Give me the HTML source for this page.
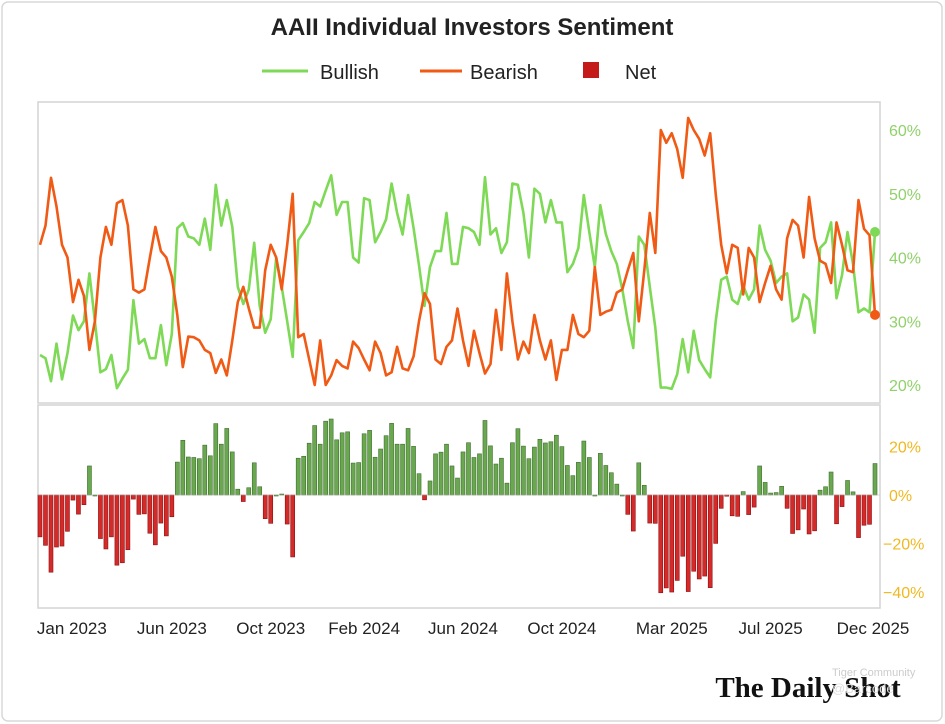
<!DOCTYPE html>
<html><head><meta charset="utf-8"><style>
body{margin:0;background:#fff;}
#wrap{position:relative;width:945px;height:724px;overflow:hidden;font-family:"Liberation Sans",sans-serif;}
</style></head><body>
<div id="wrap">
<svg id="chart" width="945" height="724"></svg>
</div>
<script>
const bullish=[24.7,24.2,20.6,26.5,20.9,25,30.9,28.6,30,37.5,30,22,22.5,24.7,19.5,21,22.4,33.3,26.5,27.2,24.2,24.2,29.4,23.1,28,44.6,45.4,43.3,43,42,46.1,41.2,51.4,45,49,44.8,35.4,32.7,35,42.3,32.4,28.2,30.3,40,35.4,30,24.4,42.7,44,45.4,48.7,48,50.5,52.9,46.7,48.7,48.7,40,39.2,49.3,49,42.4,44,46,51.6,47,43.6,49.8,44.6,38.8,32.4,38.5,41,41,47,39,39,44.8,44.6,44,42,52.6,43.6,44.6,40.7,42.4,51.6,51.4,47,40,50.8,50,45.5,49,45.5,45.5,37.7,39,41.5,49.8,44,38.5,48.2,43.7,41,39,35,30,25.8,43.3,42,35.4,29,19.6,19.6,19.4,21.7,27.2,22,28.5,23.9,22.5,21.2,30,36.5,37,33.4,32.7,35.6,33.4,35,45,41.2,39.5,36,37,37.5,30,30.6,34.2,33.4,28.2,41.5,42.4,45.5,33.6,37.2,44,39,31.4,32,31.4,44];
const bearish=[42,45,52.5,48,42,40,33,36.5,34,25.5,30,40,44.8,42,48.5,49,45,35,34.5,35,40,44.8,41,40,37,31,22.8,27.6,27.5,27,25.5,25,21.9,24,21.5,27,33,35.4,32,29,29,38,42,40,35,42,50,27.5,28,24,20,27,20,21.5,23.9,23,22.6,26.8,25.8,24,22.3,26.8,25,21.5,22,26,22.6,22.3,24.5,30,34.4,32.7,24,23.3,26,27,32,27,23,28.5,25,21.8,23.3,31.8,25.5,37.5,30,24,26.8,25,31,27,24,27,20.8,25.5,25.5,31,28,27.5,28.5,38.5,31,31.5,31.8,34.5,35,38,40.7,30,38,47,40.7,60,58,59.5,57,52.5,61.9,60,58.6,56,59.5,50,42,37.5,42,41.5,34.2,41.5,40,33,36,38.7,35,33.4,43,45.9,45,40,49.5,43,39.5,39,36,45.5,42,38,37.7,49,44.5,43.5,31];
const tickLabels=["Jan 2023","Jun 2023","Oct 2023","Feb 2024","Jun 2024","Oct 2024","Mar 2025","Jul 2025","Dec 2025"];
const tickWeeks=[5.8,24,42,59,77,95,115,133,152];
const topTicks=[20,30,40,50,60];
const botTicks=[20,0,-20,-40];

const NS="http://www.w3.org/2000/svg";
const svg=document.getElementById('chart');
function mk(tag,attrs,parent){const e=document.createElementNS(NS,tag);for(const k in attrs)e.setAttribute(k,attrs[k]);(parent||svg).appendChild(e);return e;}
const n=bullish.length;
const X=i=>40+i*(835/(n-1));
const Yt=v=>385-(v-20)*6.375;
const Yb=v=>495-v*2.42;

let e;
e=mk('rect',{x:2,y:2,width:940,height:719,rx:6,fill:'#fff',stroke:'#d8d8d8','stroke-width':1.5});


e=mk('text',{x:472,y:35,'text-anchor':'middle','font-size':24,'font-weight':'bold',fill:'#222'});e.textContent='AAII Individual Investors Sentiment';


// legend
let lg=mk('g',{});


e=mk('line',{x1:262,y1:71,x2:308,y2:71,stroke:'#7ed957','stroke-width':3},lg);
e=mk('text',{x:320,y:79,'font-size':20,fill:'#222'},lg);e.textContent='Bullish';


e=mk('line',{x1:420,y1:71,x2:462,y2:71,stroke:'#f05a14','stroke-width':3},lg);
e=mk('text',{x:470,y:79,'font-size':20,fill:'#222'},lg);e.textContent='Bearish';


e=mk('rect',{x:583,y:62,width:16,height:16,fill:'#c41a1a'},lg);
e=mk('text',{x:625,y:79,'font-size':20,fill:'#222'},lg);e.textContent='Net';


// panels
e=mk('rect',{x:38,y:102,width:842,height:301,fill:'#fff',stroke:'#d4d4d4','stroke-width':1.5});


e=mk('rect',{x:38,y:405,width:842,height:203,fill:'#fff',stroke:'#d4d4d4','stroke-width':1.5});


topTicks.forEach(t=>{const tx=mk('text',{x:889,y:Yt(t)+6,'font-size':16,fill:'#8fd16a'});tx.textContent=t+'%';

});
botTicks.forEach(t=>{const tx=mk('text',{x:t<0?883:889,y:Yb(t)+6,'font-size':16,fill:'#f0b820'});tx.textContent=(t<0?'−':'')+Math.abs(t)+'%';

});
// bars
for(let i=0;i<n;i++){const v=bullish[i]-bearish[i];const y0=Yb(0),y1=Yb(v);
const b=mk('rect',{x:X(i)-2,y:Math.min(y0,y1),width:4,height:Math.max(1,Math.abs(y1-y0)),fill:v>=0?'#6aa84f':'#d42a2a',stroke:v>=0?'#3e6e2e':'#8e1010','stroke-width':0.6});

}
e=mk('line',{x1:38,y1:Yb(0),x2:880,y2:Yb(0),stroke:'#bbb','stroke-width':0.6});
// lines
function line(arr,col,name){const d=arr.map((v,i)=>(i?'L':'M')+X(i).toFixed(1)+','+Yt(v).toFixed(1)).join('');
const p=mk('path',{d:d,fill:'none',stroke:col,'stroke-width':2.6,'stroke-linejoin':'round'});


const c=mk('circle',{cx:X(n-1),cy:Yt(arr[n-1]),r:5,fill:col});

}
line(bullish,'#7ed957','bullish-line');
line(bearish,'#f05a14','bearish-line');
tickLabels.forEach((t,k)=>{const tx=mk('text',{x:Math.min(X(tickWeeks[k]),873),y:634,'text-anchor':'middle','font-size':17,fill:'#222'});tx.textContent=t;

});
e=mk('text',{x:808,y:697,'text-anchor':'middle','font-size':29,'font-weight':'bold','font-family':'Liberation Serif,serif',fill:'#111'});e.textContent='The Daily Shot';


e=mk('text',{x:832,y:676,'font-size':11,fill:'#ccc'});e.textContent='Tiger Community';


e=mk('text',{x:832,y:693,'font-size':13,fill:'#ddd'});e.textContent='@Barcode';


</script>
</body></html>
